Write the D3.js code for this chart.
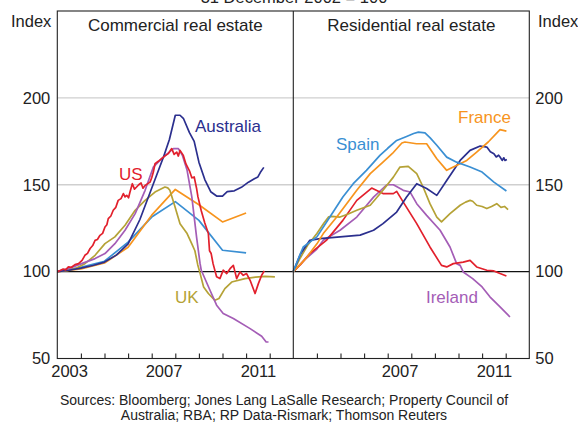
<!DOCTYPE html>
<html>
<head>
<meta charset="utf-8">
<script src="https://cdn.jsdelivr.net/npm/d3@7"></script>
<style>
  html, body { margin: 0; padding: 0; background: #fff; }
  svg { display: block; font-family: "Liberation Sans", Arial, sans-serif; }
</style>
</head>
<body>
<svg id="chart" width="578" height="422"></svg>
<script>
// ---------- DATA (decimal year, index: 31 Dec 2002 = 100) ----------
const yTicks = [50, 100, 150, 200];
const leftYearLabels = [2003, 2007, 2011];
const rightYearLabels = [2007, 2011];
const yearTicks = [2004, 2005, 2006, 2007, 2008, 2009, 2010, 2011, 2012];

// Commercial real estate
const comSpain = [[2003,100],[2004,102.5],[2005,106],[2006,117],[2007,131.4],[2008,140.3],[2009,129.5],[2010,112.3],[2011,110.8]];
const comFrance = [[2003,100],[2004,101.5],[2005,105],[2006,114],[2007,132.5],[2008,147.3],[2009,138.5],[2010,128.6],[2011,133.7]];
const comUK = [[2003,100],[2003.4,100.6],[2003.75,101.7],[2004.17,104.6],[2004.6,109.4],[2005.02,116.1],[2005.44,120],[2005.87,126.7],[2006.3,135.3],[2006.72,141],[2007.14,145.8],[2007.56,148.7],[2007.68,148.2],[2007.77,146.8],[2007.99,137.2],[2008.2,127.6],[2008.5,121.9],[2008.7,116],[2008.83,112],[2008.95,104],[2009.05,99],[2009.2,91.2],[2009.4,87.4],[2009.68,83.5],[2009.85,84.5],[2010.1,90.2],[2010.39,94],[2010.95,96],[2011.4,96.8],[2011.8,97.3],[2012.22,97]];
const comIreland = [[2003,100],[2003.47,101.7],[2004.03,104.6],[2004.6,107.5],[2005.02,110.4],[2005.44,116.1],[2005.87,123.8],[2006.3,133.4],[2006.72,146.8],[2007.07,160.2],[2007.42,165],[2007.92,170.8],[2008.13,170.8],[2008.3,167],[2008.5,158.3],[2008.7,143],[2008.9,120],[2009.05,104.6],[2009.1,100.8],[2009.47,89.3],[2009.75,80.7],[2010.03,75.9],[2010.46,73],[2011.17,67.2],[2011.66,62.8],[2011.85,59.5],[2011.95,59.5]];
const comAustralia = [[2003,100],[2003.5,100.8],[2004,102],[2004.5,103.5],[2005,105.5],[2005.5,109.5],[2006,116],[2006.5,130],[2007,148],[2007.5,166],[2007.75,176],[2008,190],[2008.2,190],[2008.35,188],[2008.6,180],[2008.8,175],[2009,163],[2009.25,153],[2009.5,146],[2009.75,143.5],[2010,143.5],[2010.2,146],[2010.5,146.5],[2010.8,148.5],[2011.1,151.5],[2011.35,153.5],[2011.5,154.5],[2011.6,157],[2011.75,160]];
const comUS = [[2003,100],[2003.1,100.5],[2003.25,101.5],[2003.35,101],[2003.47,102.7],[2003.6,102.5],[2003.75,104],[2003.9,104.6],[2004.05,106.5],[2004.17,109.4],[2004.28,110.5],[2004.39,113.3],[2004.5,115],[2004.6,118],[2004.7,118.5],[2004.81,120.9],[2004.92,122],[2005.02,125.7],[2005.1,127],[2005.16,130.5],[2005.27,132],[2005.37,135.3],[2005.48,137],[2005.58,141],[2005.7,142],[2005.8,144.9],[2005.87,143],[2005.94,143.9],[2006.02,142.5],[2006.08,145.8],[2006.18,150.6],[2006.27,147.5],[2006.36,148.7],[2006.45,150],[2006.55,151],[2006.63,148],[2006.72,149.6],[2006.82,150.5],[2006.93,151.5],[2007,154],[2007.07,157.3],[2007.14,162.1],[2007.28,163.5],[2007.42,165],[2007.55,166.5],[2007.7,167.9],[2007.78,169.5],[2007.85,170.8],[2007.95,167.5],[2008.06,168.8],[2008.13,166.5],[2008.2,169.8],[2008.34,166.9],[2008.45,162],[2008.6,158],[2008.7,154],[2008.8,154.5],[2008.9,148],[2008.96,143],[2009.1,135],[2009.25,128],[2009.4,122],[2009.45,112],[2009.52,110.4],[2009.6,104.6],[2009.75,97],[2009.89,96],[2010.03,100.8],[2010.18,98.9],[2010.32,101.7],[2010.46,103.6],[2010.6,96],[2010.74,99.8],[2010.88,97.9],[2011.02,98.9],[2011.17,95],[2011.38,87.4],[2011.52,93.1],[2011.66,97.9],[2011.77,100.4]];

// Residential real estate
const resSpain = [[2003,100],[2003.2,107],[2003.42,114.2],[2003.7,117],[2004,120],[2004.55,131.4],[2005.1,142.9],[2005.54,150.6],[2006.1,158.3],[2006.67,166.9],[2007,171],[2007.38,175.5],[2007.8,177.8],[2008.1,179.5],[2008.3,180.3],[2008.58,179.9],[2008.8,177],[2009.08,172.7],[2009.5,165.9],[2009.92,163],[2010.49,160.2],[2011,157.3],[2011.5,151.5],[2012.03,146.4]];
const resFrance = [[2003,100],[2003.5,107],[2004,116],[2004.27,121.9],[2004.84,131.4],[2005.69,146.8],[2006.26,156.4],[2006.8,163],[2007.2,168],[2007.6,174],[2007.73,174.6],[2008.22,173.6],[2008.65,173.6],[2009.08,165],[2009.5,158.3],[2009.78,160.2],[2010.35,164],[2010.77,168.8],[2011.26,174.6],[2011.76,181.7],[2012.03,180.9]];
const resUK = [[2003,100],[2003.3,108],[2003.6,115],[2004,122],[2004.3,128],[2004.5,131.5],[2004.63,131.8],[2004.98,131.4],[2005.3,133],[2005.69,135.3],[2006.26,138.2],[2006.8,146.8],[2007.24,154.4],[2007.52,160.2],[2007.87,160.6],[2008.23,156.4],[2008.5,148.7],[2008.79,139.1],[2009.08,131.4],[2009.28,128.6],[2009.64,133.4],[2010.07,138.2],[2010.3,140],[2010.49,141],[2010.6,140.5],[2010.77,138.2],[2011,137.5],[2011.2,136.3],[2011.4,137.5],[2011.62,139.1],[2011.8,137],[2011.95,137.5],[2012.1,135.7]];
const resIreland = [[2003,100],[2003.5,107],[2004,113],[2004.27,118],[2004.98,123.8],[2005.69,131.4],[2006.4,142.9],[2006.96,150],[2007.24,150],[2007.66,146.8],[2007.95,145.8],[2008.23,139.1],[2008.65,132.4],[2009.22,123.8],[2009.64,114.2],[2009.92,104.6],[2010.07,103.6],[2010.2,99.8],[2010.6,96],[2011,91.2],[2011.33,85.5],[2011.76,79.7],[2012.18,73.9]];
const resAustralia = [[2003,100],[2003.3,110],[2003.7,118],[2004.13,119],[2004.98,120],[2005.83,121],[2006.4,123.8],[2006.8,127.6],[2007.38,134.3],[2007.8,142.9],[2008.23,150.6],[2008.65,147.8],[2009.08,143.9],[2009.5,152.5],[2010.07,164],[2010.49,169.8],[2010.92,172.3],[2011.2,171.7],[2011.35,169],[2011.5,167.9],[2011.6,166],[2011.7,167],[2011.76,166],[2011.85,164],[2011.92,165.5],[2011.97,164],[2012.05,164.5]];
const resUS = [[2003,100],[2003.3,104],[2003.7,110.4],[2004.4,118],[2005.1,129.5],[2005.69,141],[2006.32,148.1],[2006.8,144.9],[2007.24,144.9],[2007.38,146.2],[2007.66,140],[2008.23,127.6],[2008.79,114.2],[2009.28,103.6],[2009.5,102.7],[2009.78,104.6],[2010.2,105.5],[2010.49,106.5],[2010.77,102.7],[2011.2,100.8],[2011.5,100.4],[2011.76,98.9],[2012.03,97.5]];

// ---------- STYLE ----------
const colors = {
  spain: "#3a8fd3", france: "#f7941d", uk: "#b5a236",
  ireland: "#a45db6", australia: "#2b2f8e", us: "#e2202c"
};
const textColor = "#222";

// ---------- LAYOUT ----------
const svg = d3.select("#chart");
const plotTop = 11, plotBottom = 358.5;
const leftX = 57.3, midX = 293.3, rightX = 529.3;

const y = d3.scaleLinear().domain([50, 250]).range([plotBottom, plotTop]);
const xL = d3.scaleLinear().domain([2003, 2013]).range([leftX, midX]);
const xR = d3.scaleLinear().domain([2003, 2013]).range([midX, rightX]);

// Header text (partially cut off at top, as in the original)
svg.append("text").attr("x", 294).attr("y", 3).attr("text-anchor", "middle")
  .attr("font-size", 16.5).attr("fill", textColor).text("31 December 2002 = 100");

// Gridlines
const fullX = d3.scaleLinear().domain([0, 1]).range([leftX, rightX]);
svg.append("g").selectAll("line").data([150, 200]).join("line")
  .attr("x1", fullX(0)).attr("x2", fullX(1))
  .attr("y1", d => y(d)).attr("y2", d => y(d))
  .attr("stroke", "#cfcfcf").attr("stroke-width", 1.3);

// Series
const line = xs => d3.line().x(d => xs(d[0])).y(d => y(d[1]));
const draw = (xs, data, color) =>
  svg.append("path").datum(data).attr("d", line(xs))
    .attr("fill", "none").attr("stroke", color).attr("stroke-width", 1.7)
    .attr("stroke-linejoin", "round");

// 100 baseline
svg.append("line").attr("x1", fullX(0)).attr("x2", fullX(1))
  .attr("y1", y(100)).attr("y2", y(100)).attr("stroke", "#111").attr("stroke-width", 1.1);

draw(xL, comSpain, colors.spain);
draw(xL, comFrance, colors.france);
draw(xL, comUK, colors.uk);
draw(xL, comIreland, colors.ireland);
draw(xL, comAustralia, colors.australia);
draw(xL, comUS, colors.us);

draw(xR, resIreland, colors.ireland);
draw(xR, resUS, colors.us);
draw(xR, resUK, colors.uk);
draw(xR, resAustralia, colors.australia);
draw(xR, resFrance, colors.france);
draw(xR, resSpain, colors.spain);

// Frame
const frame = svg.append("g").attr("stroke", "#222").attr("stroke-width", 1.1).attr("fill", "none");
frame.append("rect").attr("x", leftX).attr("y", plotTop).attr("width", rightX - leftX).attr("height", plotBottom - plotTop);
frame.append("line").attr("x1", midX).attr("x2", midX).attr("y1", plotTop).attr("y2", plotBottom);

// X ticks (year boundaries, pointing up)
[xL, xR].forEach(xs => {
  const g = svg.append("g").attr("transform", `translate(0,${plotBottom})`)
    .call(d3.axisBottom(xs).tickValues(yearTicks).tickSizeInner(-5).tickSizeOuter(0).tickFormat(""));
  g.select(".domain").remove();
  g.selectAll(".tick line").attr("stroke", "#222").attr("stroke-width", 1.1);
});

// X labels (centred within years)
const xLabels = (xs, years) => {
  const g = svg.append("g").attr("transform", `translate(0,${plotBottom})`)
    .call(d3.axisBottom(xs).tickValues(years.map(v => v + 0.5)).tickSize(0).tickPadding(7)
      .tickFormat(d => String(Math.floor(d))));
  g.select(".domain").remove();
  g.selectAll("text").attr("font-size", 16.5).attr("fill", textColor)
    .attr("font-family", '"Liberation Sans", Arial, sans-serif');
};
xLabels(xL, leftYearLabels);
xLabels(xR, rightYearLabels);

// Y labels
const yl = svg.append("g").attr("transform", `translate(${leftX},0)`)
  .call(d3.axisLeft(y).tickValues(yTicks).tickSize(0).tickPadding(7));
const yr = svg.append("g").attr("transform", `translate(${rightX},0)`)
  .call(d3.axisRight(y).tickValues(yTicks).tickSize(0).tickPadding(6));
[yl, yr].forEach(g => {
  g.select(".domain").remove();
  g.selectAll("text").attr("font-size", 16.5).attr("fill", textColor)
    .attr("font-family", '"Liberation Sans", Arial, sans-serif');
});

// Units and panel titles
svg.append("text").attr("x", 11).attr("y", 27).attr("font-size", 16.5).attr("fill", textColor).text("Index");
svg.append("text").attr("x", 538).attr("y", 27).attr("font-size", 16.5).attr("fill", textColor).text("Index");
svg.append("text").attr("x", (leftX + midX) / 2).attr("y", 31).attr("text-anchor", "middle")
  .attr("font-size", 17).attr("fill", textColor).text("Commercial real estate");
svg.append("text").attr("x", (midX + rightX) / 2).attr("y", 31).attr("text-anchor", "middle")
  .attr("font-size", 17).attr("fill", textColor).text("Residential real estate");

// Series labels
const lab = (xs, yr_, val, txt, color) =>
  svg.append("text").attr("x", xs(yr_)).attr("y", y(val)).attr("font-size", 17)
    .attr("fill", color).text(txt);
lab(xL, 2008.83, 180.1, "Australia", colors.australia);
lab(xL, 2005.61, 152.5, "US", colors.us);
lab(xL, 2007.99, 81.8, "UK", colors.uk);
lab(xR, 2004.81, 169.8, "Spain", colors.spain);
lab(xR, 2009.98, 185.3, "France", colors.france);
lab(xR, 2008.62, 81.8, "Ireland", colors.ireland);

// Sources
svg.append("text").attr("x", 284).attr("y", 405).attr("text-anchor", "middle")
  .attr("font-size", 14).attr("fill", textColor)
  .text("Sources: Bloomberg; Jones Lang LaSalle Research; Property Council of");
svg.append("text").attr("x", 284).attr("y", 420).attr("text-anchor", "middle")
  .attr("font-size", 14).attr("fill", textColor)
  .text("Australia; RBA; RP Data-Rismark; Thomson Reuters");
</script>
</body>
</html>
